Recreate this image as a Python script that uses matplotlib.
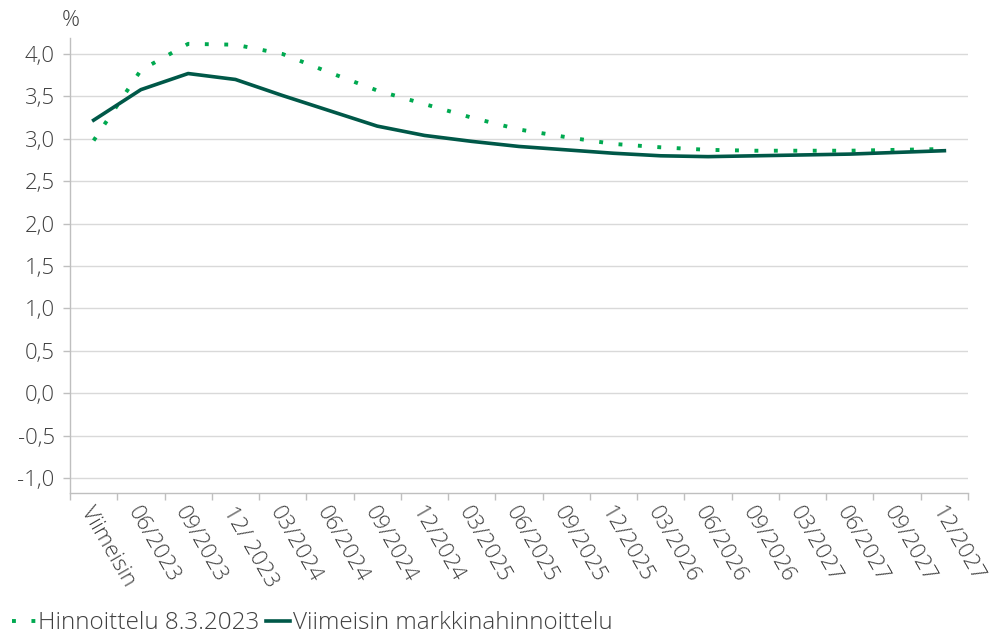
#!/usr/bin/env python3
"""Euribor-odotukset: markkinahinnoittelu 8.3.2023 vs. viimeisin."""

import matplotlib

matplotlib.use("Agg")
import matplotlib.pyplot as plt
from matplotlib.ticker import FixedLocator, MultipleLocator, FuncFormatter

plt.rcParams["font.family"] = ["Open Sans", "DejaVu Sans"]
plt.rcParams["font.weight"] = "light"

categories = [
    "Viimeisin", "06/2023", "09/2023", "12/ 2023", "03/2024", "06/2024", "09/2024",
    "12/2024", "03/2025", "06/2025", "09/2025", "12/2025", "03/2026", "06/2026",
    "09/2026", "03/2027", "06/2027", "09/2027", "12/2027",
]
pricing_0803 = [
    2.98, 3.81, 4.12, 4.11, 4.00, 3.78, 3.57, 3.41, 3.25, 3.11,
    3.02, 2.94, 2.90, 2.87, 2.86, 2.86, 2.86, 2.87, 2.88,
]
pricing_latest = [
    3.22, 3.58, 3.77, 3.70, 3.51, 3.33, 3.15, 3.04, 2.97, 2.91,
    2.87, 2.83, 2.80, 2.79, 2.80, 2.81, 2.82, 2.84, 2.86,
]

LIGHT_GREEN = "#00a950"
DARK_GREEN = "#005848"
TEXT = "#404040"
GRID = "#d9d9d9"
FS = 16

fig = plt.figure(figsize=(10, 6.39), dpi=100)
ax = fig.add_axes([0.070, 0.228, 0.898, 0.712])

x = list(range(len(categories)))
ax.plot(x, pricing_0803, color=LIGHT_GREEN, linewidth=2.8, linestyle=(0, (1, 4)),
        label="Hinnoittelu 8.3.2023", zorder=3)
ax.plot(x, pricing_latest, color=DARK_GREEN, linewidth=2.6,
        solid_joinstyle="round", label="Viimeisin markkinahinnoittelu", zorder=4)

ax.set_xlim(-0.5, len(categories) - 0.5)
ax.set_ylim(-1.18, 4.185)

ax.yaxis.set_major_locator(MultipleLocator(0.5))
ax.yaxis.set_major_formatter(FuncFormatter(lambda v, _: f"{v:.1f}".replace(".", ",")))
ax.grid(axis="y", color=GRID, linewidth=1.0)
ax.set_axisbelow(True)

# category boundaries carry the tick marks, labels sit at the centres
ax.xaxis.set_major_locator(FixedLocator([i - 0.5 for i in range(len(categories) + 1)]))
ax.xaxis.set_major_formatter(FuncFormatter(lambda v, _: ""))
ax.tick_params(axis="x", which="major", length=5, color="#bfbfbf", width=1)
ax.tick_params(axis="y", length=5, color="#bfbfbf", width=1, labelsize=FS,
               labelcolor=TEXT, pad=6)
for i, lab in enumerate(categories):
    ax.text(i + 0.02, -0.022, lab, transform=ax.get_xaxis_transform(),
            rotation=-60, rotation_mode="anchor", ha="left", va="top",
            fontsize=FS, color=TEXT)

for side in ("top", "right"):
    ax.spines[side].set_visible(False)
for side in ("left", "bottom"):
    ax.spines[side].set_color("#bfbfbf")
    ax.spines[side].set_linewidth(1)

fig.text(0.062, 0.968, "%", fontsize=FS, color=TEXT, ha="left", va="center")

fig.legend(loc="lower left", bbox_to_anchor=(0.008, 0.0), ncol=2, frameon=False,
           fontsize=17.5, handlelength=1.0, handletextpad=0.1, columnspacing=0.25,
           labelcolor=TEXT, borderaxespad=0.0, borderpad=0.15)

fig.savefig("out.png", dpi=100)
